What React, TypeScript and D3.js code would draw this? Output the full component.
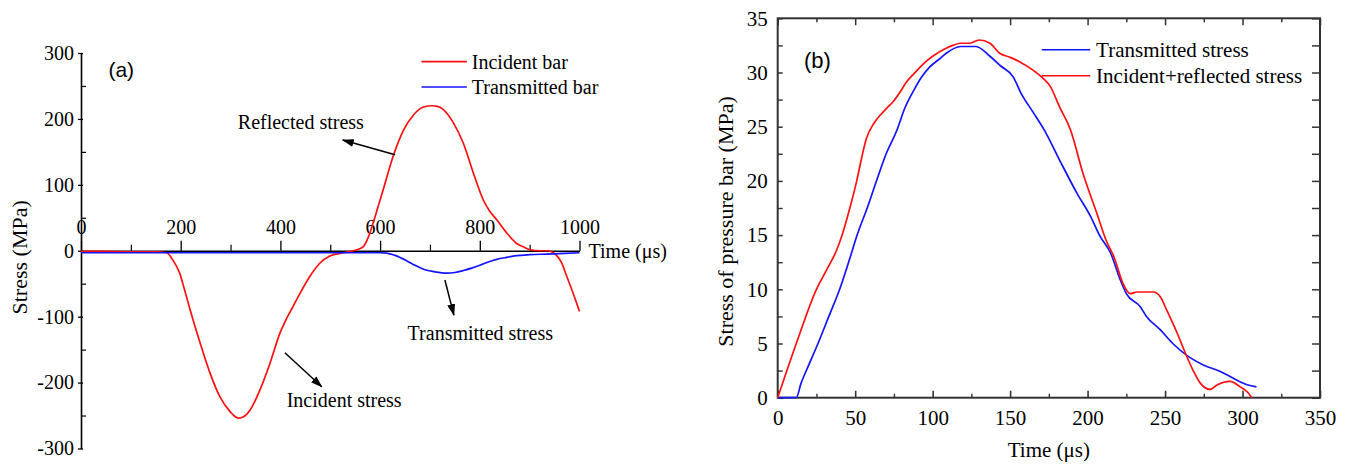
import React, { useEffect, useRef } from "react";
import * as d3 from "d3";

// ---- panel (a): bar signals, time (us) vs stress (MPa)
const incidentBar: [number, number][] = [
  [0, -1], [50, -1], [100, -1.5], [150, -1.5], [172, -3], [185, -15], [198, -34], [208, -60],
  [219, -90], [239, -140], [259, -186], [279, -222], [299, -244], [308, -251], [316, -254],
  [326, -252], [339, -242], [359, -211], [379, -171], [399, -125], [413, -102], [425, -85],
  [439, -65], [459, -39], [479, -19], [499, -8], [520, -4], [540, -1], [555, 2], [566, 6],
  [576, 20], [586, 42], [596, 67], [606, 92], [626, 143], [647, 183], [667, 206], [687, 218],
  [704, 220], [715, 219], [727, 214], [747, 194], [767, 163], [787, 118], [807, 77], [820, 60],
  [834, 47], [854, 27], [874, 11], [890, 5], [901, 1.5], [920, 0], [934, 0], [945, -2],
  [954, -7], [964, -18], [974, -38], [987, -64], [1000, -92],
];

const transmittedBar: [number, number][] = [
  [0, -3], [100, -3], [200, -3], [300, -3], [400, -3], [500, -3], [600, -3], [613, -3.5],
  [630, -7], [653, -15], [670, -22], [687, -28], [710, -32], [734, -34], [750, -33], [767, -30],
  [785, -26], [800, -22], [817, -17], [834, -13], [854, -10], [874, -7.5], [900, -6], [934, -5],
  [970, -4], [1000, -3],
];

const xTicksA = [0, 200, 400, 600, 800, 1000];
const xMinorA = [100, 300, 500, 700, 900];
const yTicksA = [-300, -200, -100, 0, 100, 200, 300];
const yMinorA = [-250, -150, -50, 50, 150, 250];

const legendA = [
  { label: "Incident bar", color: "#ff1010", v: 287 },
  { label: "Transmitted bar", color: "#1414ff", v: 248.4 },
];

const annotationsA = [
  { label: "Reflected stress", anchor: "middle", text: [441, 184], tail: [630, 145.5], head: [525, 168] },
  { label: "Transmitted stress", anchor: "middle", text: [801, -135.5], tail: [730, -44.4], head: [748, -97.6] },
  { label: "Incident stress", anchor: "start", text: [412.6, -236.8], tail: [409, -154.8], head: [483, -206.4] },
];

// ---- panel (b): stress balance check
const transmittedStress: [number, number][] = [
  [0, 0], [12, 0], [15, 1.3], [20, 3], [26, 5], [33, 7.5], [40, 10], [46, 12.6], [51, 14.9],
  [58, 17.6], [64, 20.1], [70, 22.5], [77, 24.7], [82, 26.7], [88, 28.4], [93, 29.6], [98, 30.5],
  [104, 31.2], [109, 31.8], [118, 32.4], [128, 32.4], [137, 31.5], [144, 30.6], [152, 29.6],
  [157, 28.1], [165, 26.3], [172, 24.7], [182, 21.9], [193, 18.9], [202, 16.7], [208, 14.9],
  [215, 13.3], [221, 10.9], [225, 9.6], [234, 8.4], [238, 7.5], [247, 6.25], [255, 5.0],
  [264, 3.9], [275, 3.0], [286, 2.4], [294, 1.8], [303, 1.2], [309, 1.0],
];

const incidentReflected: [number, number][] = [
  [0, 0], [12, 5], [25, 10], [32, 11.9], [38, 13.6], [42, 15.2], [46, 17.2], [51, 20], [54, 22],
  [57, 23.8], [62, 25.3], [67, 26.2], [71, 26.8], [75, 27.4], [79, 28.2], [83, 29.1], [88, 29.9],
  [94, 30.8], [100, 31.5], [108, 32.2], [113, 32.5], [118, 32.7], [124, 32.7], [130, 33],
  [137, 32.7], [143, 31.8], [150, 31.4], [156, 31], [165, 30.2], [171, 29.5], [176, 28.7],
  [182, 26.8], [189, 24.7], [197, 20.7], [206, 17], [212, 14.5], [217, 13], [223, 10.5],
  [227.5, 9.6], [232, 9.75], [242.5, 9.75], [247, 9.3], [251, 8.1], [258, 5.9], [264, 3.8],
  [268, 2.55], [273, 1.3], [279, 0.77], [283.5, 1.17], [292, 1.5], [298.5, 1.0], [303, 0.55],
  [306, 0],
];

const xTicksB = [0, 50, 100, 150, 200, 250, 300, 350];
const xMinorB = [25, 75, 125, 175, 225, 275, 325];
const yTicksB = [0, 5, 10, 15, 20, 25, 30, 35];
const yMinorB = [2.5, 7.5, 12.5, 17.5, 22.5, 27.5, 32.5];

const legendB = [
  { label: "Transmitted stress", color: "#1414ff", v: 32.1 },
  { label: "Incident+reflected stress", color: "#ff1010", v: 29.7 },
];

const SERIF = "'Liberation Serif', 'Times New Roman', serif";
const SANS = "'Liberation Sans', Arial, sans-serif";
const plain = (d: any) => String(d);

function styleAxis(g: any, size: number) {
  g.attr("font-family", SERIF).attr("font-size", size);
  g.selectAll("text")
    .attr("fill", "#000")
    .style("font-family", SERIF)
    .style("font-size", size + "px");
  g.selectAll("line").attr("stroke", "#000");
}

function drawPanelA(svg: any) {
  const xA = d3.scaleLinear().domain([0, 1000]).range([81, 579.5]);
  const yA = d3.scaleLinear().domain([-300, 300]).range([448.5, 53]);
  const g = svg.append("g");

  // y axis: major ticks cross the line, minor ones point inward
  const yAxis = g.append("g")
    .attr("transform", `translate(${xA(0)},0)`)
    .call(d3.axisLeft(yA).tickValues(yTicksA).tickFormat(plain).tickSize(3).tickPadding(4).tickSizeOuter(0));
  styleAxis(yAxis, 20);
  yAxis.select(".domain").attr("stroke", "#000").attr("stroke-width", 1.6);
  yAxis.selectAll(".tick line").attr("x1", 2).attr("stroke-width", 1.3);

  const yMinor = g.append("g")
    .attr("transform", `translate(${xA(0)},0)`)
    .call(d3.axisRight(yA).tickValues(yMinorA).tickSize(5).tickFormat(() => "").tickSizeOuter(0));
  yMinor.select(".domain").remove();
  yMinor.selectAll("line").attr("stroke", "#000").attr("stroke-width", 1.2);

  // x axis on the zero line, labels above
  const xAxis = g.append("g")
    .attr("transform", `translate(0,${yA(0)})`)
    .call(d3.axisTop(xA).tickValues(xTicksA).tickFormat(plain).tickSize(10).tickPadding(7).tickSizeOuter(0));
  styleAxis(xAxis, 20);
  xAxis.select(".domain").attr("stroke", "#000").attr("stroke-width", 1.3);
  xAxis.selectAll(".tick line").attr("stroke-width", 1.3);

  const xMinor = g.append("g")
    .attr("transform", `translate(0,${yA(0)})`)
    .call(d3.axisTop(xA).tickValues(xMinorA).tickSize(6).tickFormat(() => "").tickSizeOuter(0));
  xMinor.select(".domain").remove();
  xMinor.selectAll("line").attr("stroke", "#000").attr("stroke-width", 1.2);

  g.append("text")
    .attr("x", xA(1000) + 9)
    .attr("y", yA(0) + 7)
    .style("font-family", SERIF)
    .style("font-size", "20px")
    .text("Time (\u03bcs)");

  g.append("text")
    .attr("transform", `translate(27,${yA(-10)}) rotate(-90)`)
    .attr("text-anchor", "middle")
    .style("font-family", SERIF)
    .style("font-size", "22px")
    .text("Stress (MPa)");

  g.append("text")
    .attr("x", xA(55))
    .attr("y", yA(263))
    .style("font-family", SANS)
    .style("font-size", "21px")
    .text("(a)");

  const line = d3.line<[number, number]>()
    .x(d => xA(d[0]))
    .y(d => yA(d[1]))
    .curve(d3.curveMonotoneX);

  g.append("path").attr("d", line(incidentBar))
    .attr("fill", "none").attr("stroke", legendA[0].color).attr("stroke-width", 1.7);
  g.append("path").attr("d", line(transmittedBar))
    .attr("fill", "none").attr("stroke", legendA[1].color).attr("stroke-width", 1.7);

  // legend
  const leg = g.selectAll(".legA").data(legendA).enter().append("g").attr("class", "legA");
  leg.append("line")
    .attr("x1", xA(683)).attr("x2", xA(774))
    .attr("y1", d => yA(d.v)).attr("y2", d => yA(d.v))
    .attr("stroke", d => d.color).attr("stroke-width", 1.7);
  leg.append("text")
    .attr("x", xA(784))
    .attr("y", d => yA(d.v))
    .attr("dy", "0.35em")
    .style("font-family", SERIF)
    .style("font-size", "20px")
    .text(d => d.label);

  // annotations with arrows
  const ann = g.selectAll(".annA").data(annotationsA).enter().append("g").attr("class", "annA");
  ann.append("text")
    .attr("x", d => xA(d.text[0]))
    .attr("y", d => yA(d.text[1]))
    .attr("text-anchor", d => d.anchor)
    .style("font-family", SERIF)
    .style("font-size", "20px")
    .text(d => d.label);
  ann.append("line")
    .attr("x1", d => xA(d.tail[0])).attr("y1", d => yA(d.tail[1]))
    .attr("x2", d => xA(d.head[0])).attr("y2", d => yA(d.head[1]))
    .attr("stroke", "#000").attr("stroke-width", 1.5)
    .attr("marker-end", "url(#arrowHead)");
}

function drawPanelB(svg: any) {
  const xB = d3.scaleLinear().domain([0, 350]).range([777.7, 1320]);
  const yB = d3.scaleLinear().domain([0, 35]).range([397.7, 18.3]);
  const g = svg.append("g");
  const frame = "#333";

  const bottom = g.append("g").attr("transform", `translate(0,${yB(0)})`)
    .call(d3.axisBottom(xB).tickValues(xTicksB).tickFormat(plain).tickSize(-7).tickPadding(12).tickSizeOuter(0));
  styleAxis(bottom, 21);
  bottom.select(".domain").remove();
  bottom.selectAll("line").attr("stroke", frame).attr("stroke-width", 1.6);

  const bottomMinor = g.append("g").attr("transform", `translate(0,${yB(0)})`)
    .call(d3.axisBottom(xB).tickValues(xMinorB).tickSize(-4).tickFormat(() => "").tickSizeOuter(0));
  bottomMinor.select(".domain").remove();
  bottomMinor.selectAll("line").attr("stroke", frame).attr("stroke-width", 1.4);

  const top = g.append("g").attr("transform", `translate(0,${yB(35)})`)
    .call(d3.axisTop(xB).tickValues(xTicksB.concat(xMinorB)).tickSize(-7).tickFormat(() => "").tickSizeOuter(0));
  top.select(".domain").remove();
  top.selectAll(".tick line")
    .attr("y2", (d: number) => (xMinorB.includes(d) ? 4 : 7))
    .attr("stroke", frame).attr("stroke-width", 1.5);

  const left = g.append("g").attr("transform", `translate(${xB(0)},0)`)
    .call(d3.axisLeft(yB).tickValues(yTicksB).tickFormat(plain).tickSize(-5).tickPadding(10).tickSizeOuter(0));
  styleAxis(left, 21);
  left.select(".domain").remove();
  left.selectAll("line").attr("stroke", frame).attr("stroke-width", 1.5);

  const leftMinor = g.append("g").attr("transform", `translate(${xB(0)},0)`)
    .call(d3.axisLeft(yB).tickValues(yMinorB).tickSize(-5).tickFormat(() => "").tickSizeOuter(0));
  leftMinor.select(".domain").remove();
  leftMinor.selectAll("line").attr("stroke", frame).attr("stroke-width", 1.4);

  const right = g.append("g").attr("transform", `translate(${xB(350)},0)`)
    .call(d3.axisRight(yB).tickValues(yTicksB.concat(yMinorB)).tickSize(-8).tickFormat(() => "").tickSizeOuter(0));
  right.select(".domain").remove();
  right.selectAll("line").attr("stroke", frame).attr("stroke-width", 1.5);

  g.append("rect")
    .attr("x", xB(0)).attr("y", yB(35))
    .attr("width", xB(350) - xB(0)).attr("height", yB(0) - yB(35))
    .attr("fill", "none").attr("stroke", frame).attr("stroke-width", 2);

  g.append("text")
    .attr("x", xB(175))
    .attr("y", yB(0) + 59)
    .attr("text-anchor", "middle")
    .style("font-family", SERIF)
    .style("font-size", "21px")
    .text("Time (\u03bcs)");

  g.append("text")
    .attr("transform", `translate(733,${yB(16.26)}) rotate(-90)`)
    .attr("text-anchor", "middle")
    .style("font-family", SERIF)
    .style("font-size", "22px")
    .text("Stress of pressure bar (MPa)");

  g.append("text")
    .attr("x", xB(17))
    .attr("y", yB(30.4))
    .style("font-family", SANS)
    .style("font-size", "22px")
    .text("(b)");

  const line = d3.line<[number, number]>()
    .x(d => xB(d[0]))
    .y(d => yB(d[1]))
    .curve(d3.curveMonotoneX);

  g.append("path").attr("d", line(transmittedStress))
    .attr("fill", "none").attr("stroke", legendB[0].color).attr("stroke-width", 1.7);
  g.append("path").attr("d", line(incidentReflected))
    .attr("fill", "none").attr("stroke", legendB[1].color).attr("stroke-width", 1.7);

  const leg = g.selectAll(".legB").data(legendB).enter().append("g").attr("class", "legB");
  leg.append("line")
    .attr("x1", xB(170.4)).attr("x2", xB(201.7))
    .attr("y1", d => yB(d.v)).attr("y2", d => yB(d.v))
    .attr("stroke", d => d.color).attr("stroke-width", 1.7);
  leg.append("text")
    .attr("x", xB(205.5))
    .attr("y", d => yB(d.v))
    .attr("dy", "0.35em")
    .style("font-family", SERIF)
    .style("font-size", "21px")
    .text(d => d.label);
}

export default function App() {
  const ref = useRef<SVGSVGElement>(null);

  useEffect(() => {
    const svg = d3.select(ref.current);
    svg.selectAll("*").remove();

    svg.append("defs").append("marker")
      .attr("id", "arrowHead")
      .attr("viewBox", "0 0 12 8")
      .attr("refX", 11)
      .attr("refY", 4)
      .attr("markerWidth", 12)
      .attr("markerHeight", 8)
      .attr("markerUnits", "userSpaceOnUse")
      .attr("orient", "auto")
      .append("path")
      .attr("d", "M0,0 L12,4 L0,8 z")
      .attr("fill", "#000");

    drawPanelA(svg);
    drawPanelB(svg);
  }, []);

  return (
    <div style={{ position: "absolute", left: 0, top: 0 }}>
      <svg ref={ref} width={1349} height={464} style={{ display: "block", background: "#fff" }} />
    </div>
  );
}
